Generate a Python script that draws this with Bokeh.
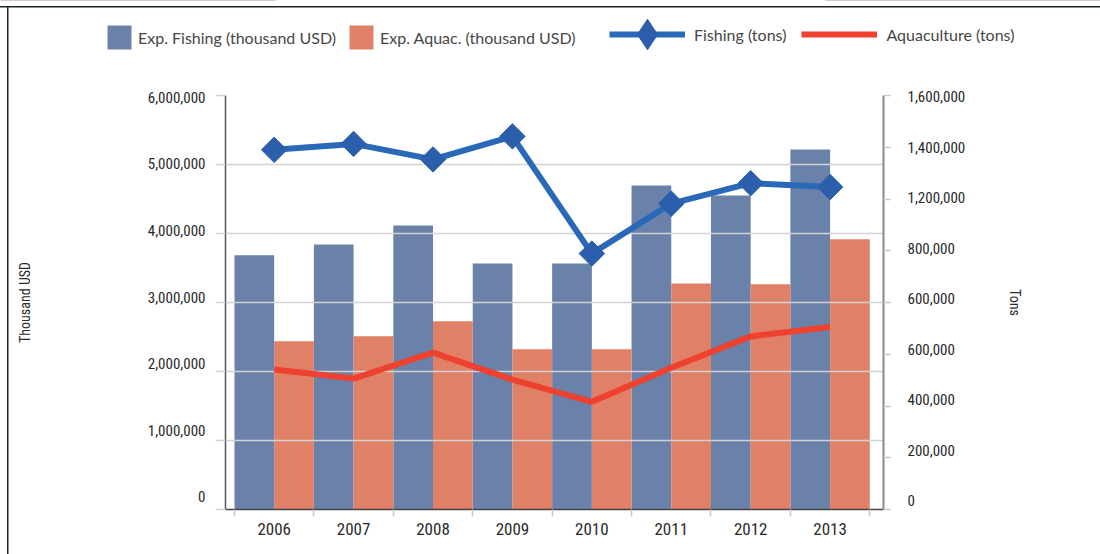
import math
from bokeh.plotting import figure
from bokeh.models import (LinearAxis, Range1d, FixedTicker, NumeralTickFormatter, Grid,
                          Legend, LegendItem, ColumnDataSource, InlineStyleSheet)
from bokeh.transform import dodge
from bokeh.embed import file_html
from bokeh.resources import INLINE

# ---------------- data ----------------
years = ["2006", "2007", "2008", "2009", "2010", "2011", "2012", "2013"]
exp_fishing = [3683000, 3842000, 4117000, 3567000, 3567000, 4697000, 4552000, 5218000]
exp_aquac = [2437000, 2510000, 2727000, 2322000, 2322000, 3277000, 3263000, 3915000]
fishing_tons = [1390000, 1413000, 1353000, 1442000, 989000, 1182000, 1261000, 1246000]
aquac_tons = [541000, 506000, 606000, 502000, 416000, 548000, 669000, 705000]

left_ticks = [0, 1000000, 2000000, 3000000, 4000000, 5000000, 6000000]
right_ticks = [0, 200000, 400000, 600000, 800000, 1000000, 1200000, 1400000, 1600000]
right_tick_labels = ["0", "200,000", "400,000", "600,000", "600,000", "800,000",
                     "1,200,000", "1,400,000", "1,600,000"]

series_names = ["Exp. Fishing (thousand USD)", "Exp. Aquac. (thousand USD)",
                "Fishing (tons)", "Aquaculture (tons)"]
left_title = "Thousand USD"
right_title = "Tons"

# ---------------- styling ----------------
TICK_FONT = "Roboto Condensed, Liberation Sans Narrow, Roboto"
LEG_FONT = "Lato"
TXT = "#2a2a2a"
C_FISH_BAR = "#6a81a9"
C_AQ_BAR = "#e08067"
C_FISH_LINE = "#2a69b8"
C_FISH_MARK = "#2b5fab"
C_AQ_LINE = "#ee4130"
GRID = "#d3d3d3"
STUB = "#c8c8c8"

W = 1100
LEG_H = 80
MAIN_H = 554 - LEG_H

n = len(years)
idx = list(range(n))
src = ColumnDataSource(dict(x=idx, fish=exp_fishing, aq=exp_aquac,
                            fish_t=fishing_tons, aq_t=aquac_tons))

# value ranges, and the slightly shifted ranges the printed tick labels sit on
main_rng = Range1d(left_ticks[0], left_ticks[-1])
tons_rng = Range1d(right_ticks[0], right_ticks[-1])
llab_rng = Range1d(-189000, 6027000)
rlab_rng = Range1d(-34000, 1605200)


def remap(vals, src_r, dst_r):
    return [dst_r.start + (v - src_r.start) / (src_r.end - src_r.start) * (dst_r.end - dst_r.start)
            for v in vals]


# ================= main chart =================
p = figure(width=W, height=MAIN_H, output_backend="svg", toolbar_location=None,
           x_range=Range1d(-0.613, n - 1 + 0.6725), y_range=main_rng,
           y_axis_location=None,
           min_border_left=225, min_border_right=217, min_border_top=15,
           min_border_bottom=45)
p.extra_y_ranges = {"tons": tons_rng, "llab": llab_rng, "rlab": rlab_rng}
p.outline_line_color = None
p.background_fill_color = "white"
p.border_fill_alpha = 0
p.stylesheets = [InlineStyleSheet(css=":host { background: "
                                  "linear-gradient(#222,#222) 7px 0 / 1.5px 100% no-repeat; }")]

rb = p.vbar(x=dodge("x", -0.25, range=p.x_range), top="fish", width=0.5, bottom=0,
            source=src, fill_color=C_FISH_BAR, line_color=None, level="underlay")
ro = p.vbar(x=dodge("x", 0.25, range=p.x_range), top="aq", width=0.5, bottom=0,
            source=src, fill_color=C_AQ_BAR, line_color=None, level="underlay")

la = p.line("x", "aq_t", source=src, line_width=6, line_color=C_AQ_LINE,
            y_range_name="tons")
lf = p.line("x", "fish_t", source=src, line_width=6, line_color=C_FISH_LINE,
            y_range_name="tons")
mf = p.scatter("x", "fish_t", source=src, marker="square", angle=math.pi / 4, size=18,
               fill_color=C_FISH_MARK, line_color=C_FISH_MARK, y_range_name="tons")

# grid
p.xgrid.visible = False
p.add_layout(Grid(dimension=1, ticker=FixedTicker(ticks=left_ticks),
                  grid_line_color=GRID, grid_line_width=1.5))

# left axis: printed labels on their own positions, stubs at the grid lines
yl = LinearAxis(y_range_name="llab",
                ticker=FixedTicker(ticks=left_ticks,
                                   minor_ticks=remap(left_ticks, main_rng, llab_rng)),
                formatter=NumeralTickFormatter(format="0,0"))
yl.axis_line_color = "#555555"
yl.axis_line_width = 1.5
yl.major_tick_line_color = None
yl.major_tick_out = 10
yl.major_tick_in = 0
yl.minor_tick_line_color = GRID
yl.minor_tick_line_width = 1.5
yl.minor_tick_out = 10
yl.minor_tick_in = 0
yl.major_label_standoff = 10
yl.major_label_text_font = TICK_FONT
yl.major_label_text_font_size = "15px"
yl.major_label_text_color = TXT
yl.axis_label = left_title
yl.axis_label_text_font = TICK_FONT
yl.axis_label_text_font_style = "normal"
yl.axis_label_text_font_size = "14px"
yl.axis_label_text_color = TXT
yl.axis_label_standoff = 112
p.add_layout(yl, "left")

# bottom axis
xa = p.xaxis[0]
xa.ticker = FixedTicker(ticks=idx, minor_ticks=[i - 0.5 for i in range(n + 1)])
xa.major_label_overrides = {i: y for i, y in zip(idx, years)}
xa.axis_line_color = "#444444"
xa.axis_line_width = 1.5
xa.major_tick_out = 0
xa.major_tick_in = 0
xa.major_tick_line_color = None
xa.minor_tick_out = 7
xa.minor_tick_in = 0
xa.minor_tick_line_color = STUB
xa.minor_tick_line_width = 1.5
xa.major_label_standoff = 6
xa.major_label_text_font = TICK_FONT
xa.major_label_text_font_size = "17px"
xa.major_label_text_color = TXT

# right axis
rl = LinearAxis(y_range_name="rlab",
                ticker=FixedTicker(ticks=right_ticks,
                                   minor_ticks=remap(right_ticks, tons_rng, rlab_rng)),
                major_label_overrides=dict(zip(right_ticks, right_tick_labels)))
rl.axis_line_color = "#888888"
rl.axis_line_width = 2
rl.major_tick_line_color = None
rl.major_tick_out = 7
rl.major_tick_in = 0
rl.minor_tick_line_color = STUB
rl.minor_tick_line_width = 1.5
rl.minor_tick_out = 7
rl.minor_tick_in = 0
rl.major_label_standoff = 17
rl.major_label_text_font = TICK_FONT
rl.major_label_text_font_size = "15px"
rl.major_label_text_color = TXT
rl.axis_label = right_title
rl.axis_label_text_font = TICK_FONT
rl.axis_label_text_font_style = "normal"
rl.axis_label_text_font_size = "14px"
rl.axis_label_text_color = TXT
rl.axis_label_standoff = 39
p.add_layout(rl, "right")

# ================= legend strip (separate root above the chart) =================
# its glyphs reuse the chart data but sit outside the strip's view; only the legend shows
q = figure(width=W, height=LEG_H, output_backend="svg", toolbar_location=None,
           x_range=Range1d(0, 1), y_range=Range1d(-2, -1),
           x_axis_type=None, y_axis_type=None, min_border=0)
q.outline_line_color = None
q.xgrid.visible = False
q.ygrid.visible = False
q.background_fill_alpha = 0
q.border_fill_alpha = 0
q.stylesheets = [InlineStyleSheet(css=":host { background: "
                                  "linear-gradient(#222,#222) 0 6px / 100% 1.5px no-repeat, "
                                  "linear-gradient(#222,#222) 7px 6px / 1.5px 100% no-repeat; }")]

kb = q.vbar(x="x", top="fish", width=0.5, bottom=0, source=src,
            fill_color=C_FISH_BAR, line_color=None)
ko = q.vbar(x="x", top="aq", width=0.5, bottom=0, source=src,
            fill_color=C_AQ_BAR, line_color=None)
kl = q.line("x", "fish_t", source=src, line_width=6, line_color=C_FISH_LINE)
km = q.scatter("x", "fish_t", source=src, marker="diamond",
               fill_color=C_FISH_MARK, line_color=C_FISH_MARK)
ka = q.line("x", "aq_t", source=src, line_width=6, line_color=C_AQ_LINE)

common = dict(orientation="horizontal", padding=0, margin=0, border_line_alpha=0,
              background_fill_alpha=0, label_text_font=LEG_FONT,
              label_text_font_size="16px", label_text_color="#474747")
legA = Legend(items=[LegendItem(label=series_names[0], renderers=[kb]),
                     LegendItem(label=series_names[1], renderers=[ko])],
              location=(104, 28), glyph_width=30, glyph_height=30,
              label_standoff=4, spacing=10, **common)
legB = Legend(items=[LegendItem(label=series_names[2], renderers=[kl, km]),
                     LegendItem(label=series_names[3], renderers=[ka])],
              location=(609, 6), glyph_width=76, glyph_height=80,
              label_standoff=9, spacing=15, **common)
q.add_layout(legA)
q.add_layout(legB)

open("out.html", "w").write(file_html([q, p], INLINE))
